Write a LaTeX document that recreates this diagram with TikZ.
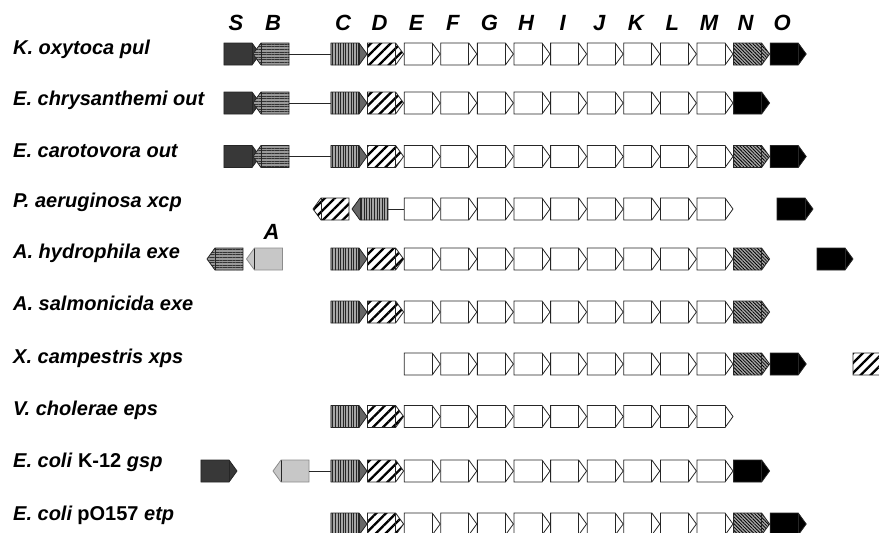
\documentclass[tikz,border=0pt]{standalone}
\usepackage{fontspec}
\setmainfont{Liberation Sans}
\usetikzlibrary{shapes.symbols,patterns.meta,positioning}

\begin{document}
\begin{tikzpicture}[x=1pt, y=-1pt,
  gene/.style={signal, signal to=east, signal pointer angle=108, draw=black!85,
    line width=.8pt, minimum width=36pt, minimum height=22pt,
    inner sep=0pt, outer sep=0pt,
    path picture={\draw[black!85, line width=.8pt]
      ([xshift=-8pt]path picture bounding box.north east) --
      ([xshift=-8pt]path picture bounding box.south east);}},
  rgene/.style={gene, signal to=west,
    path picture={\draw[black!85, line width=.8pt]
      ([xshift=8pt]path picture bounding box.north west) --
      ([xshift=8pt]path picture bounding box.south west);}},
  gS/.style={fill=black!78},
  gB/.style={preaction={fill=black!40},
    pattern={Lines[angle=0, distance=2.6pt, line width=.7pt]}, pattern color=black!80},
  gC/.style={preaction={fill=black!35},
    pattern={Lines[angle=90, distance=2.6pt, line width=.7pt]}, pattern color=black!85},
  ctip/.style={path picture={
      \fill[black!60] ([xshift=-8pt]path picture bounding box.north east)
        rectangle (path picture bounding box.south east);
      \draw[black!85, line width=.8pt]
        ([xshift=-8pt]path picture bounding box.north east) --
        ([xshift=-8pt]path picture bounding box.south east);}},
  ctipl/.style={path picture={
      \fill[black!60] (path picture bounding box.north west)
        rectangle ([xshift=8pt]path picture bounding box.south west);
      \draw[black!85, line width=.8pt]
        ([xshift=8pt]path picture bounding box.north west) --
        ([xshift=8pt]path picture bounding box.south west);}},
  gD/.style={pattern={Lines[angle=45, distance=7pt, line width=2.3pt]}},
  gN/.style={preaction={fill=black!35},
    pattern={Lines[angle=-45, distance=2.4pt, line width=.8pt]}},
  gO/.style={fill=black},
  gA/.style={fill=black!22, draw=black!45},
  link/.style={draw=black!85, line width=.8pt},
  sp/.style={anchor=base west, inner sep=0pt, font=\fontsize{20}{22}\selectfont\bfseries\itshape},
  col/.style={inner sep=0pt, font=\fontsize{22}{24}\selectfont\bfseries\itshape}
]
\useasboundingbox (0,0) rectangle (879,533);

% white genes E--M, all rows
\foreach \r/\y in {1/54, 2/103, 3/156.5, 4/209, 5/259, 6/312, 7/364, 8/416.5, 9/471, 10/524}
  \foreach \g [count=\i from 0] in {E,F,G,H,I,J,K,L,M}
    \node[gene] (r\r-\g) at ({418.2+36.6*\i}, \y) {};

% C and D in forward orientation
\foreach \r/\y in {1/54, 2/103, 3/156.5, 5/259, 6/312, 8/416.5, 9/471, 10/524} {
  \node[gene, gC, ctip] (r\r-C) at (345, \y) {};
  \node[gene, gD] (r\r-D) at (381.6, \y) {};
}

% K. oxytoca pul
\node[sp] (n1) at (13,54) {K. oxytoca pul};
\node[gene, gS] (r1-S) at (238,54) {};
\node[rgene, gB] (r1-B) at (275,54) {};
\node[gene, gN] (r1-N) at (747.6,54) {};
\node[gene, gO] (r1-O) at (784.2,54) {};
\draw[link] (r1-B) -- (r1-C);

% E. chrysanthemi out
\node[sp] (n2) at (13,105) {E. chrysanthemi out};
\node[gene, gS] (r2-S) at (238,103) {};
\node[rgene, gB] (r2-B) at (275,103) {};
\node[gene, gO] (r2-O) at (747.6,103) {};
\draw[link] (r2-B) -- (r2-C);

% E. carotovora out
\node[sp] (n3) at (13,157) {E. carotovora out};
\node[gene, gS] (r3-S) at (238,156.5) {};
\node[rgene, gB] (r3-B) at (275,156.5) {};
\node[gene, gN] (r3-N) at (747.6,156.5) {};
\node[gene, gO] (r3-O) at (784.2,156.5) {};
\draw[link] (r3-B) -- (r3-C);

% P. aeruginosa xcp
\node[sp] (n4) at (13,207.5) {P. aeruginosa xcp};
\node[rgene, gD] (r4-D) at (335,209) {};
\node[rgene, gC, ctipl] (r4-C) at (374,209) {};
\node[gene, gO] (r4-O) at (791,209) {};
\draw[link] (r4-C) -- (r4-E);

% A. hydrophila exe
\node[sp] (n5) at (13,258.5) {A. hydrophila exe};
\node[rgene, gB] (r5-B) at (229,259) {};
\node[rgene, gA] (r5-A) at (268.5,259) {};
\node[gene, gN] (r5-N) at (747.6,259) {};
\node[gene, gO] (r5-O) at (831,259) {};

% A. salmonicida exe
\node[sp] (n6) at (13,310.5) {A. salmonicida exe};
\node[gene, gN] (r6-N) at (747.6,312) {};

% X. campestris xps
\node[sp] (n7) at (13,363.5) {X. campestris xps};
\node[gene, gN] (r7-N) at (747.6,364) {};
\node[gene, gO] (r7-O) at (784.2,364) {};
\node[gene, gD] (r7-D) at (867,364) {};

% V. cholerae eps
\node[sp] (n8) at (13,415.5) {V. cholerae eps};

% E. coli K-12 gsp
\node[sp] (n9) at (13,467.5) {E. coli \textup{K-12} gsp};
\node[gene, gS] (r9-S) at (215,471) {};
\node[rgene, gA] (r9-A) at (295,471) {};
\node[gene, gO] (r9-O) at (747.6,471) {};
\draw[link] (r9-A) -- (r9-C);

% E. coli pO157 etp
\node[sp] (n10) at (13,520.5) {E. coli\hspace{5pt}\textup{pO157} etp};
\node[gene, gN] (r10-N) at (747.6,524) {};
\node[gene, gO] (r10-O) at (784.2,524) {};

% column letters
\foreach \g in {S,B,C,D,E,F,G,H,I,J,K,L,M,N,O}
  \node[col, above=12pt of r1-\g, xshift=-2pt] (h-\g) {\g};
\node[col, above=8pt of r5-A, xshift=3pt] (h-A) {A};
\end{tikzpicture}
\end{document}
